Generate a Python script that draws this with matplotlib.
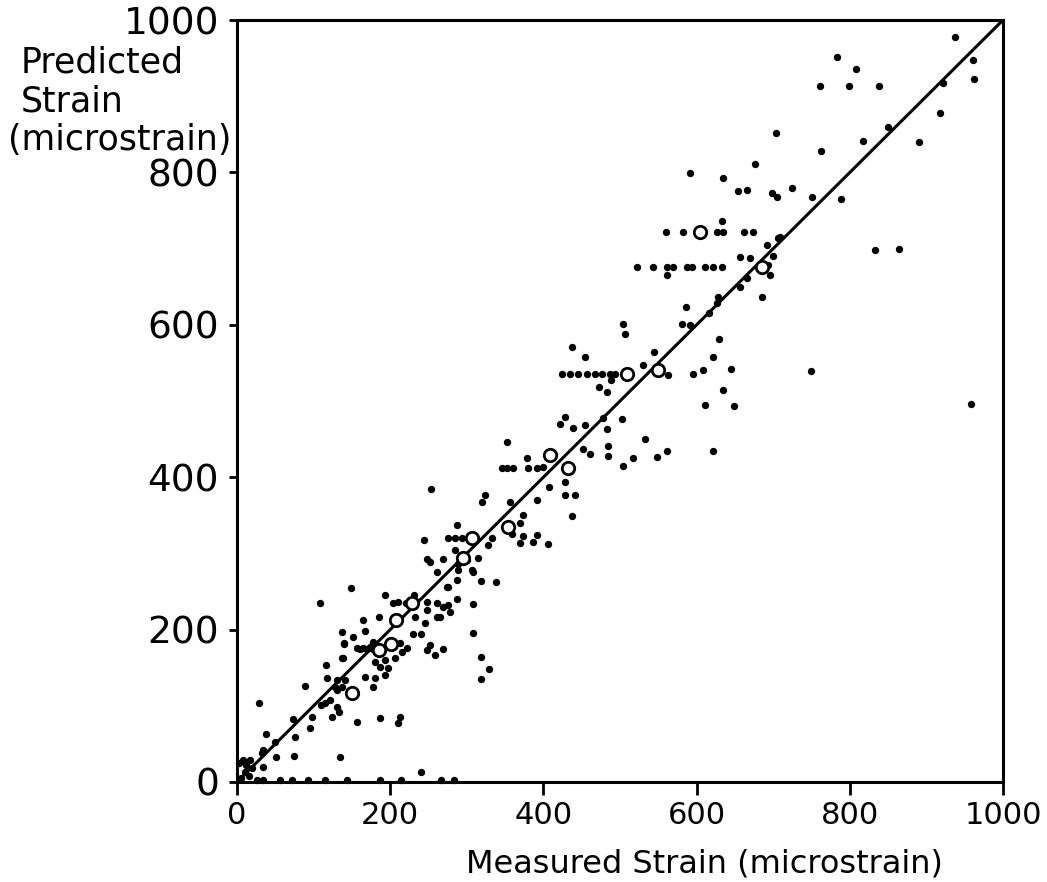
import matplotlib
matplotlib.use("Agg")
import matplotlib.pyplot as plt

plt.rcParams['font.family'] = ['DejaVu Sans']

# Measured strain (x) and predicted strain (y) for the individual readings (filled dots)
measured = [
    # near origin
    29, 38, 34, 33, 50, 51, 34, 17, 8, 20, 10, 5, 15, 3, 12,
    73, 76, 74, 95, 98, 89, 116, 117, 138, 140, 110, 115, 121, 124, 130, 133, 134, 130, 137, 141, 131, 128,
    26, 34, 56, 72, 93, 115, 143, 187, 214, 266, 283, 240,
    # 150-300
    160, 170, 178,
    149, 193, 231, 210, 248, 261, 275, 287, 287, 275, 308, 318, 338, 308, 308, 318, 329, 318, 261, 288,
    164, 185, 137, 167, 140, 152, 177, 174, 164, 157, 137, 213, 222, 215, 206, 193, 230, 240, 245, 261,
    248, 232, 252, 248, 258, 269, 265, 180, 187, 197, 193, 180, 178, 167,
    108, 157, 187, 213, 210, 300, 252, 288, 278, 269, 220, 204,
    # 250-450
    437, 454, 428, 422, 439, 454, 352, 253, 324, 320, 356, 392, 407, 428, 428, 441, 437, 287, 244, 333,
    359, 373, 369, 373, 392, 369, 386, 406, 315, 269, 248, 307, 328, 285, 274,
    346, 352, 360, 380, 392, 379, 399, 276, 285, 294,
    # 450-700
    591, 635, 676, 654, 666, 698, 705, 725,
    560, 582, 627, 635, 662, 674, 633,
    522, 543, 561, 569, 587, 594, 611, 621, 633, 561,
    657, 670, 700, 693, 696, 666, 657, 685, 692, 706,
    586, 581, 591, 628, 627, 616, 504, 507, 544, 530, 563, 629, 621, 645, 608, 595, 634, 611, 649,
    473, 483, 488, 478, 483, 503, 533, 484, 484, 504, 517, 548, 561, 621, 452, 461,
    424, 435, 445, 457, 467, 477, 487, 493,
    # upper right
    937, 783, 808, 761, 799, 838, 961, 962, 922, 918, 850, 817, 890, 704, 762, 751, 788, 709,
    833, 864, 749, 958,
]
predicted = [
    104, 63, 42, 38, 52, 33, 20, 29, 29, 18, 13, 5, 8, 25, 22,
    83, 59, 34, 71, 85, 126, 154, 136, 163, 181, 101, 104, 108, 85, 98, 92, 33, 121, 125, 134, 134, 125,
    2, 2, 2, 2, 2, 2, 2, 2, 2, 2, 2, 13,
    174, 174, 174,
    255, 245, 245, 236, 236, 235, 232, 240, 265, 256, 276, 264, 262, 233, 196, 164, 148, 135, 276, 278,
    213, 217, 197, 198, 182, 190, 184, 177, 176, 176, 163, 182, 176, 170, 163, 160, 194, 194, 209, 217,
    226, 217, 180, 173, 167, 175, 217, 157, 151, 150, 140, 136, 125, 138,
    235, 79, 84, 85, 77, 291, 289, 286, 223, 230, 235, 235,
    571, 558, 479, 470, 465, 468, 446, 385, 377, 367, 367, 370, 387, 394, 377, 377, 349, 337, 318, 320,
    325, 350, 340, 323, 324, 314, 315, 312, 294, 293, 293, 278, 311, 304, 256,
    412, 412, 412, 412, 412, 425, 413, 320, 320, 320,
    799, 793, 811, 776, 777, 773, 768, 780,
    722, 722, 722, 722, 722, 722, 736,
    676, 676, 676, 676, 676, 676, 676, 676, 676, 665,
    689, 688, 690, 678, 665, 661, 650, 637, 705, 714,
    623, 601, 600, 637, 629, 615, 601, 588, 564, 547, 534, 581, 558, 542, 541, 535, 514, 495, 493,
    518, 512, 528, 478, 463, 476, 450, 441, 428, 415, 425, 427, 434, 434, 437, 430,
    535, 535, 535, 535, 535, 535, 535, 535,
    978, 951, 936, 913, 913, 914, 947, 923, 917, 878, 860, 841, 840, 852, 828, 768, 765, 715,
    698, 700, 539, 496,
]

# Mean values (open circles)
mean_measured = [150, 185, 201, 208, 228, 295, 307, 354, 409, 432, 509, 550, 604, 685]
mean_predicted = [117, 173, 181, 213, 235, 294, 320, 335, 429, 412, 535, 541, 722, 676]

# Line of equality
line_x = [0, 1000]
line_y = [0, 1000]

ticks = [0, 200, 400, 600, 800, 1000]
tick_labels = ["0", "200", "400", "600", "800", "1000"]

fig = plt.figure(figsize=(10.47, 8.82), dpi=100)
ax = fig.add_axes([0.2264, 0.1134, 0.7316, 0.8639])

ax.plot(line_x, line_y, color='black', linewidth=2.2, zorder=2)
ax.scatter(measured, predicted, s=28, color='black', linewidths=0, zorder=3, clip_on=False)
ax.scatter(mean_measured, mean_predicted, s=80, facecolors='white', edgecolors='black',
           linewidths=2.0, zorder=4)

ax.set_xlim(0, 1000)
ax.set_ylim(0, 1000)
ax.set_xticks(ticks)
ax.set_yticks(ticks)
ax.set_xticklabels(tick_labels, fontsize=22)
ax.set_yticklabels(tick_labels, fontsize=27)
ax.tick_params(axis='x', direction='out', length=9.4, width=2, pad=4, color='black')
ax.tick_params(axis='y', direction='out', length=6, width=2, pad=7, color='black')
for sp in ax.spines.values():
    sp.set_linewidth(2.2)
    sp.set_color('black')

fig.text(0.673, 0.0105, "Measured Strain (microstrain)", fontsize=23, ha='center',
         va='baseline')
fig.text(0.02, 0.918, "Predicted", fontsize=25, ha='left', va='baseline')
fig.text(0.02, 0.874, "Strain", fontsize=25, ha='left', va='baseline')
fig.text(0.008, 0.830, "(microstrain)", fontsize=25, ha='left', va='baseline')

fig.savefig("out.png", dpi=100)
